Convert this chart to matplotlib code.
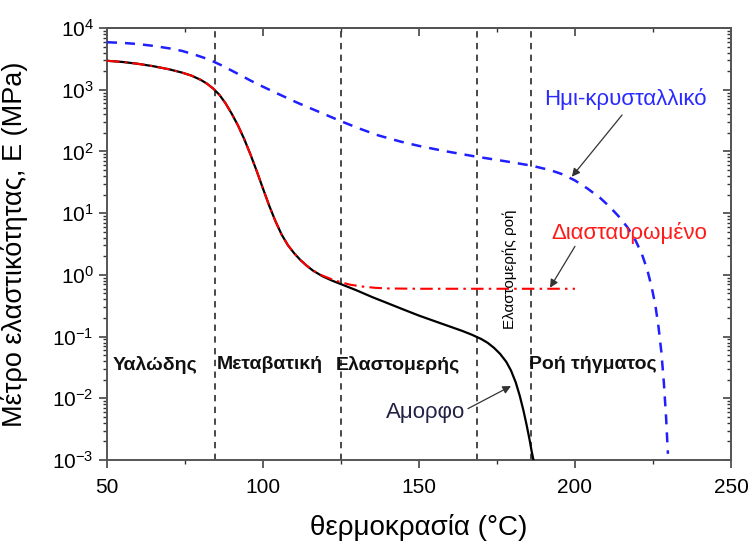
import matplotlib

matplotlib.use("Agg")
import matplotlib.pyplot as plt
from matplotlib.ticker import LogLocator, MultipleLocator, NullFormatter

plt.rcParams["font.family"] = ["Liberation Sans", "DejaVu Sans"]
plt.rcParams["mathtext.fontset"] = "custom"
plt.rcParams["mathtext.rm"] = "Liberation Sans"
plt.rcParams["mathtext.it"] = "Liberation Sans"

# amorphous polymer (black solid)
amorph_t = [50, 55, 60, 65, 70, 74, 77, 80, 82, 84, 86, 88, 90, 92, 94, 96, 98, 100,
            102, 104, 106, 108, 110, 112, 114, 116, 119, 122, 125, 130, 135, 140,
            145, 150, 155, 160, 164, 167, 170, 172, 174, 176, 178, 179.5, 181, 182.3,
            183.5, 184.5, 185.4, 186.1, 186.7]
amorph_e = [2950, 2820, 2630, 2400, 2140, 1900, 1700, 1450, 1260, 1050, 832, 603,
            407, 263, 158, 89, 48, 25, 13.2, 7.4, 4.47, 3.02, 2.24, 1.74, 1.41,
            1.175, 0.955, 0.813, 0.708, 0.562, 0.437, 0.347, 0.275, 0.219, 0.178,
            0.145, 0.123, 0.107, 0.0912, 0.0794, 0.0661, 0.0525, 0.0389, 0.0282,
            0.0182, 0.0110, 0.0063, 0.0037, 0.0022, 0.0014, 0.001]

# crosslinked (red dash-dot)
cross_t = [50, 55, 60, 65, 70, 74, 77, 80, 82, 84, 86, 88, 90, 92, 94, 96, 98, 100,
           102, 104, 106, 108, 110, 112, 114, 116, 119, 122, 125, 128, 132, 136,
           140, 150, 200]
cross_e = [2950, 2820, 2630, 2400, 2140, 1900, 1700, 1450, 1260, 1050, 832, 603,
           407, 263, 158, 89, 48, 25, 13.2, 7.4, 4.47, 3.02, 2.24, 1.74, 1.41,
           1.175, 0.977, 0.851, 0.759, 0.692, 0.646, 0.617, 0.603, 0.596, 0.596]

# semi-crystalline (blue dashed)
semi_t = [50, 55, 60, 65, 70, 74, 78, 81, 84, 87, 90, 93, 96, 100, 105, 111, 118,
          125, 131, 137, 144, 150, 158, 168, 178, 186, 192, 196, 200, 204, 208, 211,
          214, 217, 219.5, 221.5, 223.2, 224.6, 225.8, 226.8, 227.7, 228.5, 229.2,
          229.8]
semi_e = [5890, 5750, 5500, 5130, 4680, 4270, 3720, 3310, 2880, 2450, 2040, 1700,
          1410, 1120, 851, 617, 437, 309, 234, 182, 145, 123, 102, 83, 69, 59, 50,
          42.7, 33.9, 25.1, 17.8, 12.9, 8.9, 5.75, 3.55, 2.14, 1.20, 0.631, 0.316,
          0.141, 0.056, 0.0178, 0.0050, 0.00126]

region_bounds = [84.5, 125, 168.5, 186]
region_names = ["Υαλώδης", "Μεταβατική", "Ελαστομερής", "Ροή τήγματος"]
region_x = [51.8, 85.3, 123.3, 185.3]

fig = plt.figure(figsize=(7.52, 5.5), dpi=100)
ax = fig.add_axes([0.1423, 0.1636, 0.8297, 0.7854])

for xv in region_bounds:
    ax.axvline(xv, color="#3a3a3a", lw=1.3, dashes=(3.5, 3), zorder=1)

ax.plot(amorph_t, amorph_e, color="black", lw=1.6, zorder=3)
ax.plot(cross_t, cross_e, color="#ff0000", lw=1.5, dashes=(6, 2.5, 1.2, 2.5), zorder=4)
ax.plot(semi_t, semi_e, color="#1f1fff", lw=1.8, dashes=(4, 3.2), zorder=3)

ax.set_yscale("log")
ax.set_xlim(50, 250)
ax.set_ylim(1e-3, 1e4)

ax.xaxis.set_major_locator(MultipleLocator(50))
ax.xaxis.set_minor_locator(MultipleLocator(25))
ax.yaxis.set_major_locator(LogLocator(base=10, numticks=20))
ax.yaxis.set_minor_locator(LogLocator(base=10, subs=range(2, 10), numticks=20))
ax.yaxis.set_minor_formatter(NullFormatter())
ax.tick_params(which="major", direction="out", length=6, width=1.1, labelsize=15,
               color="#333333")
ax.tick_params(which="minor", direction="out", length=3, width=1.0, color="#333333")
ax.tick_params(axis="x", which="major", pad=7)

top = ax.secondary_xaxis("top")
top.xaxis.set_major_locator(MultipleLocator(50))
top.xaxis.set_minor_locator(MultipleLocator(25))
top.tick_params(which="both", direction="in", labeltop=False, color="#333333")
top.tick_params(which="major", length=6, width=1.1)
top.tick_params(which="minor", length=3, width=1.0)
right = ax.secondary_yaxis("right")
right.yaxis.set_major_locator(LogLocator(base=10, numticks=20))
right.yaxis.set_minor_locator(LogLocator(base=10, subs=range(2, 10), numticks=20))
right.tick_params(which="both", direction="in", labelright=False, color="#333333")
right.tick_params(which="major", length=6, width=1.1)
right.tick_params(which="minor", length=3, width=1.0)

for a in (ax, top, right):
    for sp in a.spines.values():
        sp.set_color("#555555")
        sp.set_linewidth(1.4)

ax.set_xlabel("θερμοκρασία (°C)", fontsize=20, labelpad=12)
ax.set_ylabel("Μέτρο ελαστικότητας, E (MPa)", fontsize=19.5)
ax.yaxis.set_label_coords(-0.126, 0.5)

for name, xv in zip(region_names, region_x):
    ax.text(xv, 0.035, name, fontsize=14, fontweight="bold", ha="left",
            va="center", color="#111111")

ax.text(179.2, 1.23, "Ελαστομερής ροή", fontsize=11, rotation=90,
        ha="center", va="center", color="black")

arrow = dict(arrowstyle="-|>", color="#333333", lw=0.9, mutation_scale=12,
             shrinkA=0, shrinkB=0)
ax.text(216, 708, "Ημι-κρυσταλλικό", fontsize=16, color="#2a2aff",
        ha="center", va="center")
ax.annotate("", xy=(199, 39), xytext=(215.1, 390), arrowprops=arrow)
ax.text(217.3, 4.8, "Διασταυρωμένο", fontsize=16, color="#ff1a1a",
        ha="center", va="center")
ax.annotate("", xy=(192, 0.62), xytext=(200, 2.9), arrowprops=arrow)
ax.text(152.2, 0.006, "Αμορφο", fontsize=16, color="#222244", ha="center", va="center")
ax.annotate("", xy=(179.5, 0.0158), xytext=(165.7, 0.0068), arrowprops=arrow)

fig.savefig("out.png", dpi=100)
